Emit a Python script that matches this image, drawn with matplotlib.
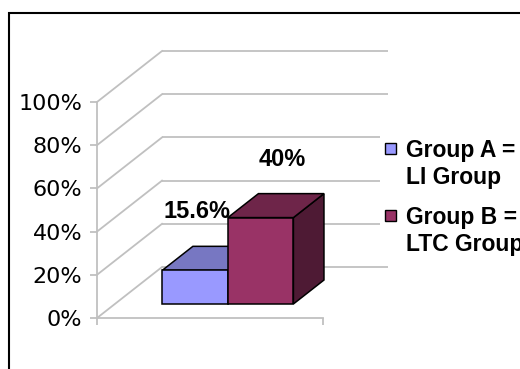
import matplotlib
matplotlib.use('Agg')
import matplotlib.pyplot as plt
from matplotlib.patches import Polygon, Rectangle

# data
groups = ['Group A', 'Group B']
legend_lines = [['Group A =', 'LI Group'], ['Group B =', 'LTC Group']]
values = [15.6, 40]
value_labels = ['15.6%', '40%']
yticks = [0, 20, 40, 60, 80, 100]

# colours: front, top, side
face_cols = [('#9999ff', '#7777c2', '#4d4d80'),
             ('#993366', '#6e2549', '#4e1a34')]
grid_col = '#c0c0c0'

W, H = 520, 369
fig = plt.figure(figsize=(W / 100, H / 100), dpi=100)
ax = fig.add_axes([97 / W, 51 / H, 226 / W, 216 / H])
ax.set_xlim(0, 1)
ax.set_ylim(0, 100)

# fake 3d: how far a full step into depth moves things (data units)
DX, DY = 0.2876, 23.6
D0, D1 = 0.275, 0.745      # bar depth range
bar_w = 0.29


def proj(x, y, d):
    return (x + d * DX, y + d * DY)


# walls
for t in yticks:
    ax.plot(*zip(proj(0, t, 1), proj(1, t, 1)), color=grid_col, lw=1.3,
            clip_on=False, zorder=1, solid_capstyle='butt')
    ax.plot(*zip(proj(0, t, 0), proj(0, t, 1)), color=grid_col, lw=1.3,
            clip_on=False, zorder=1)

# bars
x_left = [0.5 - bar_w, 0.5]
for i, v in enumerate(values):
    x0, x1 = x_left[i], x_left[i] + bar_w
    fc, tc, sc = face_cols[i]
    side = [proj(x1, 0, D0), proj(x1, 0, D1), proj(x1, v, D1), proj(x1, v, D0)]
    top = [proj(x0, v, D0), proj(x1, v, D0), proj(x1, v, D1), proj(x0, v, D1)]
    front = [proj(x0, 0, D0), proj(x1, 0, D0), proj(x1, v, D0), proj(x0, v, D0)]
    for pts, c in ((side, sc), (top, tc), (front, fc)):
        ax.add_patch(Polygon(pts, closed=True, facecolor=c, edgecolor='black',
                             lw=1.1, joinstyle='miter', clip_on=False,
                             zorder=3 + i))

# value labels above the bars
label_dx = [0.086, 0.174]
label_dy = 30.5
for i, v in enumerate(values):
    ax.text(x_left[i] + bar_w / 2 + label_dx[i], v + label_dy, value_labels[i],
            ha='center', va='baseline', fontsize=17, fontweight='bold',
            family='Liberation Sans', zorder=10)

# axes
for s in ['top', 'right']:
    ax.spines[s].set_visible(False)
for s in ['left', 'bottom']:
    ax.spines[s].set_color(grid_col)
    ax.spines[s].set_linewidth(1.3)
ax.set_yticks(yticks)
ax.set_yticklabels([f'{t}%' for t in yticks], fontsize=16,
                   family='DejaVu Sans')
ax.set_xticks([0, 1])
ax.set_xticklabels([])
ax.tick_params(axis='both', length=5, width=1.3, color=grid_col, pad=5.5)
ax.patch.set_visible(False)


def px(x, y):
    return (x / W, 1 - y / H)


# legend, drawn by hand
lx, ly = px(380, 105)
fig.add_artist(Rectangle((lx, px(0, 252)[1]), 1, ly - px(0, 252)[1],
                         transform=fig.transFigure, facecolor='white',
                         edgecolor='none', zorder=5))
sq_top = [143, 210]
for i in range(len(groups)):
    x0, y0 = px(385, sq_top[i] + 11)
    fig.add_artist(Rectangle((x0, y0), 11 / W, 11 / H,
                             transform=fig.transFigure,
                             facecolor=face_cols[i][0], edgecolor='black',
                             lw=1.0, zorder=6))
    for j, line in enumerate(legend_lines[i]):
        tx, ty = px(406, sq_top[i] + 14 + j * 27)
        fig.text(tx, ty, line, ha='left', va='baseline', fontsize=16.5,
                 fontweight='bold', family='Liberation Sans', zorder=7)

# outer frame (runs off the right and bottom)
fx, fy = px(9, 13)
fig.add_artist(Rectangle((fx, -0.2), 1.2, fy + 0.2, transform=fig.transFigure,
                         facecolor='none', edgecolor='black', lw=1.5,
                         zorder=8))

fig.savefig('out.png', dpi=100)
